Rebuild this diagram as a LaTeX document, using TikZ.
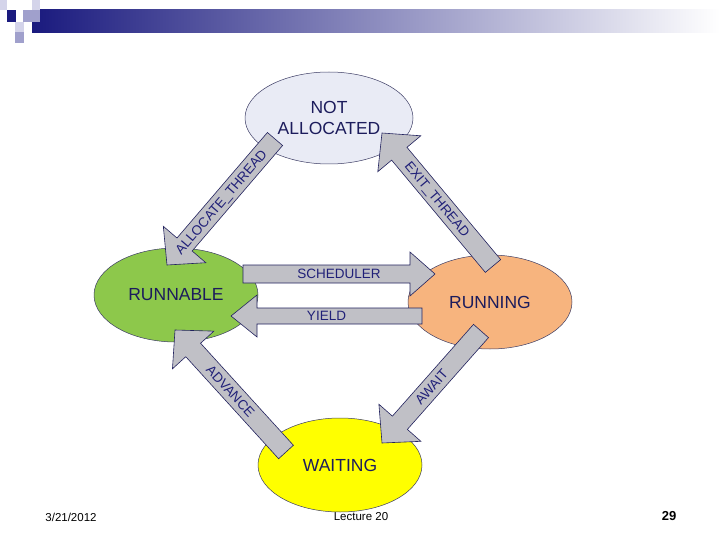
\documentclass[tikz,border=0pt]{standalone}
\usepackage{fontspec}
\setmainfont{Liberation Sans}
\usetikzlibrary{shapes.geometric,calc}

\definecolor{barnavy}{HTML}{1A1A7E}
\definecolor{bargray}{HTML}{A4A4BC}
\definecolor{sqlight}{HTML}{D4D4EA}
\definecolor{sqmid}{HTML}{A0A0CC}
\definecolor{statetext}{HTML}{1C1C5C}
\definecolor{stateedge}{HTML}{3C3C64}
\definecolor{notalloc}{HTML}{E9EBF5}
\definecolor{runnable}{HTML}{8DC84B}
\definecolor{running}{HTML}{F7B47E}
\definecolor{waiting}{HTML}{FFFF00}
\definecolor{arrowfill}{HTML}{C0C0C6}
\definecolor{arrowedge}{HTML}{22225E}
\definecolor{arrowtext}{HTML}{202078}

\tikzset{arrowbox/.style={fill=arrowfill,draw=arrowedge,line width=0.6pt,line join=miter}}

% block arrow: tail, tip, half shaft, half head, head length
\newcommand{\blockarrow}[5]{%
  \coordinate (hb) at ($(#2)!#5!(#1)$);
  \draw[arrowbox] ($(#1)!#3!90:(#2)$) -- ($(hb)!#3!90:(#2)$) -- ($(hb)!#4!90:(#2)$) -- (#2)
    -- ($(hb)!#4!-90:(#2)$) -- ($(hb)!#3!-90:(#2)$) -- ($(#1)!#3!-90:(#2)$) -- cycle;}

\begin{document}
\begin{tikzpicture}[x=1pt,y=-1pt]
    \useasboundingbox (0,0) rectangle (720,540);

    % slide header
    \shade[left color=barnavy, middle color=bargray, right color=white] (32,10) rectangle (720,33);
    \fill[sqlight] (0,0) rectangle (7,10);
    \fill[sqlight] (32,0) rectangle (40,10);
    \fill[barnavy] (7,10) rectangle (16,22);
    \fill[sqmid] (23,10) rectangle (40,22);
    \fill[sqlight] (15,22) rectangle (24,32);
    \fill[sqmid] (15,32) rectangle (24,43);

    \begin{scope}[every node/.style={ellipse,draw=stateedge,line width=0.5pt,inner sep=0pt,
        minimum width=164pt,minimum height=94pt,text=statetext,align=center,
        font=\fontsize{17.5}{21}\selectfont}]
        \node[fill=notalloc,minimum width=168pt,minimum height=92pt] (na) at (329,118) {NOT\\ALLOCATED};
        \node[fill=runnable] (rb) at (176,295) {RUNNABLE};
        \node[fill=running] (ru) at (490,302) {RUNNING};
        \node[fill=waiting] (wt) at (340,465) {WAITING};
    \end{scope}

    \coordinate (sched-tail) at ($(rb)+(67,-21)$);
    \coordinate (sched-tip) at ($(ru)+(-55,-28)$);
    \coordinate (yield-tail) at ($(ru)+(-68,14)$);
    \coordinate (yield-tip) at ($(rb)+(55,21)$);
    \coordinate (alloc-tail) at ($(na)+(-54,21)$);
    \coordinate (alloc-tip) at ($(rb)+(-9,-30)$);
    \coordinate (exit-tail) at ($(ru)+(3,-36)$);
    \coordinate (exit-tip) at ($(na)+(53,15)$);
    \coordinate (adv-tail) at ($(wt)+(-54,-13)$);
    \coordinate (adv-tip) at ($(rb)+(-1,35)$);
    \coordinate (await-tail) at ($(ru)+(-9,29)$);
    \coordinate (await-tip) at ($(wt)+(42,-22)$);

    \blockarrow{sched-tail}{sched-tip}{9pt}{22pt}{25pt}
    \blockarrow{yield-tail}{yield-tip}{8pt}{21pt}{26pt}
    \blockarrow{alloc-tail}{alloc-tip}{10pt}{28pt}{27pt}
    \blockarrow{exit-tail}{exit-tip}{10pt}{28pt}{27pt}
    \blockarrow{adv-tail}{adv-tip}{10pt}{28pt}{27pt}
    \blockarrow{await-tail}{await-tip}{10pt}{28pt}{27pt}

    \begin{scope}[every node/.style={sloped,inner sep=0pt,text depth=0pt,text=arrowtext,
        font=\fontsize{13.5}{15}\selectfont}]
        \path (sched-tail) -- node (sched) {SCHEDULER} (sched-tip);
        \path (yield-tail) -- node (yield) {YIELD} (yield-tip);
        \path (alloc-tail) -- node (alloc) {ALLOCATE\_THREAD} (alloc-tip);
        \path (exit-tail) -- node (exit) {EXIT\_THREAD} (exit-tip);
        \path (adv-tail) -- node (adv) {ADVANCE} (adv-tip);
        \path (await-tail) -- node (await) {AWAIT} (await-tip);
    \end{scope}

    % slide footer
    \node[font=\fontsize{11.5}{13}\selectfont] (date) at (71,517) {3/21/2012};
    \node[font=\fontsize{11.5}{13}\selectfont] (lecture) at (361,517) {Lecture 20};
    \node[font=\bfseries\fontsize{13}{15}\selectfont] (page) at (669,516) {29};
\end{tikzpicture}
\end{document}
